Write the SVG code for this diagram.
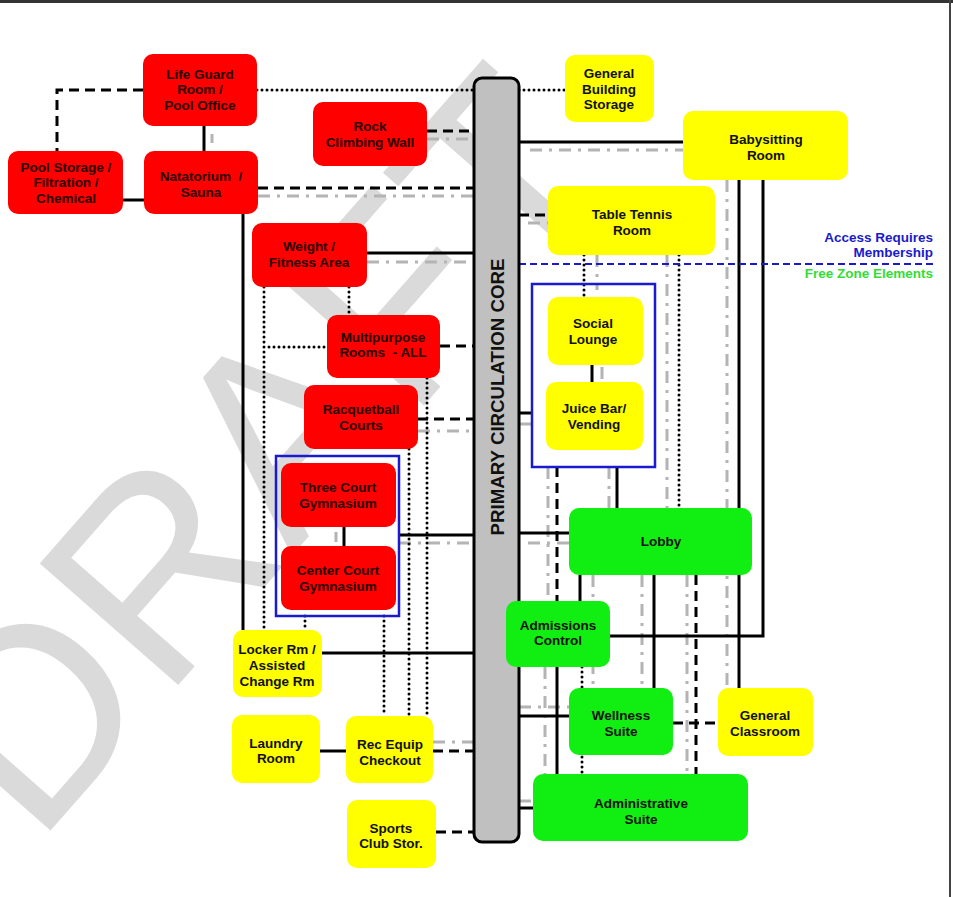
<svg xmlns="http://www.w3.org/2000/svg" width="953" height="897" viewBox="0 0 953 897">
<style>
.t{font-family:"Liberation Sans",Arial,sans-serif;font-weight:bold;font-size:13.5px;text-anchor:middle;white-space:pre}
.rt{fill:#2a0000}
.kt{fill:#111}
.red{fill:#ff0000}
.yel{fill:#ffff00}
.grn{fill:#11ee11}
.s{stroke:#000;stroke-width:3;fill:none}
.d{stroke:#000;stroke-width:3;fill:none;stroke-dasharray:10 6}
.o{stroke:#000;stroke-width:3;fill:none;stroke-dasharray:0 5;stroke-linecap:round}
.g{stroke:#b4b4b4;stroke-width:3;fill:none;stroke-dasharray:12 7 3 7}
.blue{stroke:#1a1ad0;stroke-width:2.5;fill:none}
</style>
<rect x="0" y="0" width="953" height="897" fill="#fff"/>
<g id="watermark">
<text transform="translate(36,847) rotate(-48.7)" font-family="Liberation Sans,Arial,sans-serif" font-size="268" fill="#dadada">DRAFT</text>
</g>
<g id="frame">
<path d="M0,1.5 H953" stroke="#333" stroke-width="3"/>
<path d="M950,0 V897" stroke="#444" stroke-width="2"/>
</g>
<g id="connectors">
<path class="g" d="M212,134 V143 M427,139 H474 M258,196 H474 M530,150 H683 M528,223 H548 M367,262 H474 M597,255 V290 M602,367 V379 M519,424 H532 M418,431 H474 M336,532 V542 M399,543 H474 M433,742 H474 M548,467 V601 M609,467 V508 M667,255 V508 M727,180 V688 M528,543 H569 M593,575 V688 M642,575 V688 M687,575 V774 M545,667 V774 M519,707 H569 M519,801 H533"/>
<path class="s" d="M204,126 V151 M123,200 H144 M243,214 V630 M519,142 H683 M367,253 H474 M519,413 H532 M592,365 V382 M399,535 H474 M344,527 V546 M322,653 H474 M320,751 H346 M519,533 H569 M617,467 V508 M739,180 V688 M763,180 V636 H610 M580,575 V601 M654,575 V688 M557,667 V774 M519,716 H569 M519,808 H533"/>
<path class="d" d="M143,90 H57 V151 M427,131 H474 M258,188 H474 M519,215 H548 M440,346 H474 M418,419 H474 M433,751 H474 M436,832 H474 M557,467 V601 M696,575 V774 M673,723 H718"/>
<path class="o" d="M257,90 H474 M519,90 H565 M264,287 V630 M349,287 V315 M264,347 H327 M427,378 V716 M409,449 V716 M305,616 V630 M384,616 V716 M584,255 V297 M679,255 V508 M582,667 V774"/>
<path d="M519,264 H933" stroke="#1a1acc" stroke-width="2" stroke-dasharray="7 4" fill="none"/>
</g>
<g id="legend" class="t" style="text-anchor:end">
<text x="933" y="242" fill="#1a1acc" style="text-anchor:end">Access Requires</text>
<text x="933" y="257" fill="#1a1acc" style="text-anchor:end">Membership</text>
<text x="933" y="278" fill="#33dd33" style="text-anchor:end">Free Zone Elements</text>
</g>
<g id="core">
<rect x="474" y="78" width="45" height="764" rx="8" fill="#c0c0c0" stroke="#000" stroke-width="3"/>
<text class="t kt" transform="translate(504,397) rotate(-90)" style="font-size:18.7px">PRIMARY CIRCULATION CORE</text>
</g>
<g id="group-social"><rect class="blue" x="532" y="284" width="123" height="183"/></g>
<g id="group-gym"><rect class="blue" x="276" y="456" width="123" height="160"/></g>
<g id="lifeguard"><rect class="red" x="143" y="54" width="114" height="72" rx="10"/><text class="t rt" x="200" y="79">Life Guard<tspan x="200" y="94">Room /</tspan><tspan x="200" y="110">Pool Office</tspan></text></g>
<g id="poolstorage"><rect class="red" x="8" y="151" width="115" height="63" rx="10"/><text class="t rt" x="66" y="172">Pool Storage /<tspan x="66" y="187">Filtration /</tspan><tspan x="66" y="203">Chemical</tspan></text></g>
<g id="natatorium"><rect class="red" x="144" y="151" width="114" height="63" rx="10"/><text class="t rt" x="201" y="181">Natatorium  /<tspan x="201" y="197">Sauna</tspan></text></g>
<g id="rock"><rect class="red" x="313" y="102" width="114" height="64" rx="10"/><text class="t rt" x="370" y="131">Rock<tspan x="370" y="147">Climbing Wall</tspan></text></g>
<g id="weight"><rect class="red" x="252" y="223" width="115" height="64" rx="10"/><text class="t rt" x="309" y="251">Weight /<tspan x="309" y="267">Fitness Area</tspan></text></g>
<g id="multipurpose"><rect class="red" x="327" y="315" width="113" height="63" rx="10"/><text class="t rt" x="383" y="342">Multipurpose<tspan x="383" y="357">Rooms  - ALL</tspan></text></g>
<g id="racquetball"><rect class="red" x="304" y="385" width="114" height="64" rx="10"/><text class="t rt" x="361" y="414">Racquetball<tspan x="361" y="430">Courts</tspan></text></g>
<g id="threecourt"><rect class="red" x="281" y="463" width="115" height="64" rx="10"/><text class="t rt" x="338" y="492">Three Court<tspan x="338" y="508">Gymnasium</tspan></text></g>
<g id="centercourt"><rect class="red" x="281" y="546" width="115" height="64" rx="10"/><text class="t rt" x="338" y="575">Center Court<tspan x="338" y="591">Gymnasium</tspan></text></g>
<g id="locker"><rect class="yel" x="233" y="630" width="89" height="67" rx="10"/><text class="t kt" x="277" y="654">Locker Rm /<tspan x="277" y="670">Assisted</tspan><tspan x="277" y="686">Change Rm</tspan></text></g>
<g id="laundry"><rect class="yel" x="232" y="715" width="88" height="68" rx="10"/><text class="t kt" x="276" y="748">Laundry<tspan x="276" y="763">Room</tspan></text></g>
<g id="recequip"><rect class="yel" x="346" y="716" width="87" height="67" rx="10"/><text class="t kt" x="390" y="749">Rec Equip<tspan x="390" y="765">Checkout</tspan></text></g>
<g id="sportsclub"><rect class="yel" x="347" y="800" width="89" height="68" rx="10"/><text class="t kt" x="391" y="833">Sports<tspan x="391" y="848">Club Stor.</tspan></text></g>
<g id="genstorage"><rect class="yel" x="565" y="55" width="89" height="67" rx="10"/><text class="t kt" x="609" y="78">General<tspan x="609" y="94">Building</tspan><tspan x="609" y="109">Storage</tspan></text></g>
<g id="babysitting"><rect class="yel" x="683" y="111" width="165" height="69" rx="10"/><text class="t kt" x="766" y="144">Babysitting<tspan x="766" y="160">Room</tspan></text></g>
<g id="tabletennis"><rect class="yel" x="548" y="186" width="167" height="69" rx="10"/><text class="t kt" x="632" y="219">Table Tennis<tspan x="632" y="235">Room</tspan></text></g>
<g id="social"><rect class="yel" x="548" y="297" width="95" height="68" rx="10"/><text class="t kt" x="593" y="328">Social<tspan x="593" y="344">Lounge</tspan></text></g>
<g id="juice"><rect class="yel" x="546" y="382" width="97" height="68" rx="10"/><text class="t kt" x="594" y="413">Juice Bar/<tspan x="594" y="429">Vending</tspan></text></g>
<g id="lobby"><rect class="grn" x="569" y="508" width="183" height="67" rx="10"/><text class="t kt" x="661" y="546">Lobby</text></g>
<g id="admissions"><rect class="grn" x="506" y="601" width="104" height="66" rx="10"/><text class="t kt" x="558" y="630">Admissions<tspan x="558" y="645">Control</tspan></text></g>
<g id="wellness"><rect class="grn" x="569" y="688" width="104" height="67" rx="10"/><text class="t kt" x="621" y="720">Wellness<tspan x="621" y="736">Suite</tspan></text></g>
<g id="genclass"><rect class="yel" x="718" y="688" width="95" height="68" rx="10"/><text class="t kt" x="765" y="720">General<tspan x="765" y="736">Classroom</tspan></text></g>
<g id="admin"><rect class="grn" x="533" y="774" width="215" height="67" rx="10"/><text class="t kt" x="641" y="808">Administrative<tspan x="641" y="824">Suite</tspan></text></g>
</svg>
